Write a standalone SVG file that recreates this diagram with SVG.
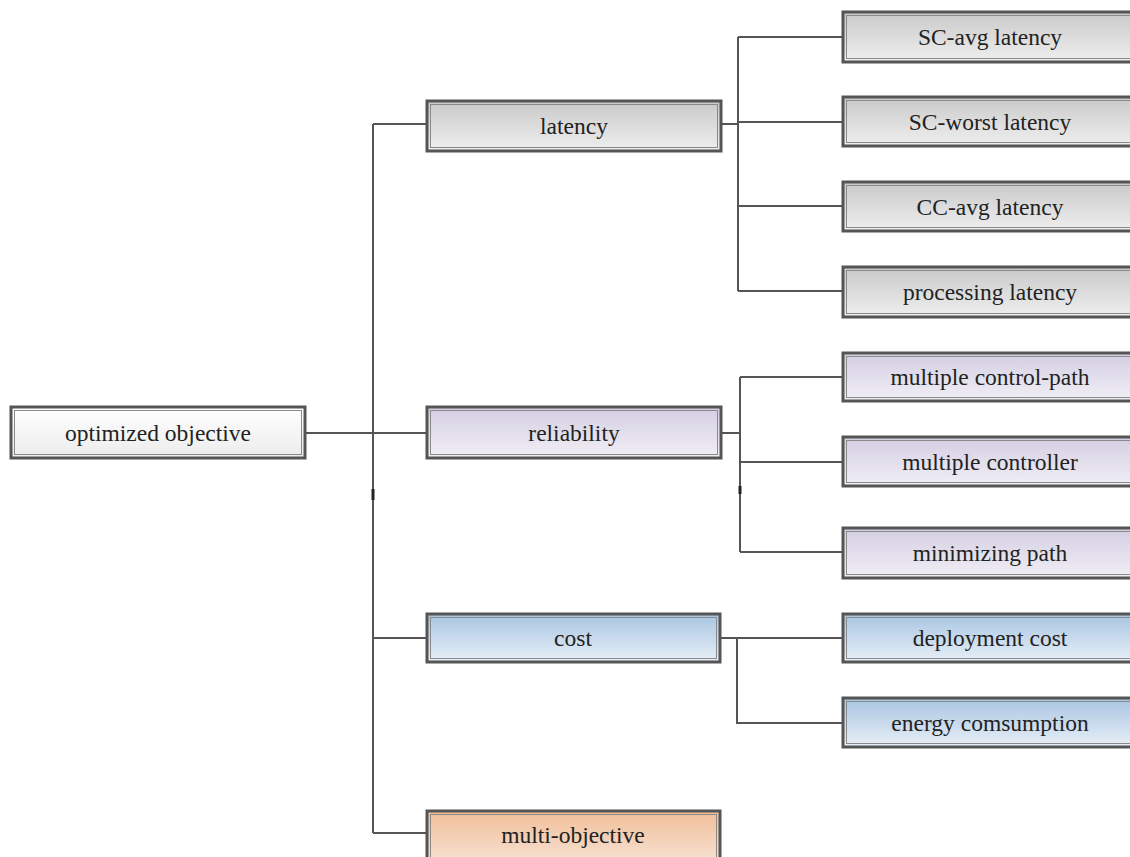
<svg xmlns="http://www.w3.org/2000/svg" width="1130" height="857" viewBox="0 0 1130 857">
<defs>
<linearGradient id="gWhite" x1="0" y1="0" x2="0" y2="1"><stop offset="0" stop-color="#ffffff"/><stop offset="1" stop-color="#ececec"/></linearGradient>
<linearGradient id="gGray" x1="0" y1="0" x2="0" y2="1"><stop offset="0" stop-color="#c9c9c9"/><stop offset="1" stop-color="#efefef"/></linearGradient>
<linearGradient id="gPurple" x1="0" y1="0" x2="0" y2="1"><stop offset="0" stop-color="#d3cee2"/><stop offset="1" stop-color="#f1eff6"/></linearGradient>
<linearGradient id="gBlue" x1="0" y1="0" x2="0" y2="1"><stop offset="0" stop-color="#a8c5e2"/><stop offset="1" stop-color="#e8eff7"/></linearGradient>
<linearGradient id="gOrange" x1="0" y1="0" x2="0" y2="1"><stop offset="0" stop-color="#f1bf98"/><stop offset="1" stop-color="#f8e6dc"/></linearGradient>
</defs>
<style>
.box{stroke:#555;stroke-width:3}
.inner{fill:none;stroke:#8a8a8a;stroke-width:1}
.lbl{font-family:"Liberation Serif","Times New Roman",serif;font-size:23.5px;fill:#222;text-anchor:middle}
.conn{fill:none;stroke:#555;stroke-width:2}
</style>
<rect width="1130" height="857" fill="#ffffff"/>
<g id="connectors">
<path class="conn" d="M305,433 H427"/>
<path class="conn" d="M373,124 V833"/>
<path class="conn" d="M373,124 H427"/>
<path class="conn" d="M373,638 H427"/>
<path class="conn" d="M373,833 H427"/>
<path class="conn" d="M721,124 H738"/>
<path class="conn" d="M738,37 V291"/>
<path class="conn" d="M738,37 H843 M738,122 H843 M738,206 H843 M738,291 H843"/>
<path class="conn" d="M721,433 H740"/>
<path class="conn" d="M740,377 V552"/>
<path class="conn" d="M740,377 H843 M740,462 H843 M740,552 H843"/>
<path class="conn" d="M720,638 H843"/>
<path class="conn" d="M737,638 V723 H843"/>
<path d="M373,489 V500" stroke="#222" stroke-width="3"/>
<path d="M740,486 V494" stroke="#222" stroke-width="3"/>
</g>
<g id="node-root"><rect class="box" x="11" y="407" width="294" height="51" fill="url(#gWhite)"/><rect class="inner" x="14.5" y="410.5" width="287" height="44"/><text class="lbl" x="158" y="441">optimized objective</text></g>
<g id="node-latency"><rect class="box" x="427" y="101" width="294" height="50" fill="url(#gGray)"/><rect class="inner" x="430.5" y="104.5" width="287" height="43"/><text class="lbl" x="574" y="134">latency</text></g>
<g id="node-sc-avg"><rect class="box" x="843" y="12" width="294" height="50" fill="url(#gGray)"/><rect class="inner" x="846.5" y="15.5" width="287" height="43"/><text class="lbl" x="990" y="45">SC-avg latency</text></g>
<g id="node-sc-worst"><rect class="box" x="843" y="97" width="294" height="49" fill="url(#gGray)"/><rect class="inner" x="846.5" y="100.5" width="287" height="42"/><text class="lbl" x="990" y="130">SC-worst latency</text></g>
<g id="node-cc-avg"><rect class="box" x="843" y="182" width="294" height="49" fill="url(#gGray)"/><rect class="inner" x="846.5" y="185.5" width="287" height="42"/><text class="lbl" x="990" y="215">CC-avg latency</text></g>
<g id="node-processing"><rect class="box" x="843" y="267" width="294" height="50" fill="url(#gGray)"/><rect class="inner" x="846.5" y="270.5" width="287" height="43"/><text class="lbl" x="990" y="300">processing latency</text></g>
<g id="node-reliability"><rect class="box" x="427" y="407" width="294" height="51" fill="url(#gPurple)"/><rect class="inner" x="430.5" y="410.5" width="287" height="44"/><text class="lbl" x="574" y="441">reliability</text></g>
<g id="node-multi-path"><rect class="box" x="843" y="353" width="294" height="48" fill="url(#gPurple)"/><rect class="inner" x="846.5" y="356.5" width="287" height="41"/><text class="lbl" x="990" y="385">multiple control-path</text></g>
<g id="node-multi-ctrl"><rect class="box" x="843" y="437" width="294" height="49" fill="url(#gPurple)"/><rect class="inner" x="846.5" y="440.5" width="287" height="42"/><text class="lbl" x="990" y="470">multiple controller</text></g>
<g id="node-min-path"><rect class="box" x="843" y="528" width="294" height="50" fill="url(#gPurple)"/><rect class="inner" x="846.5" y="531.5" width="287" height="43"/><text class="lbl" x="990" y="561">minimizing path</text></g>
<g id="node-cost"><rect class="box" x="427" y="614" width="293" height="48" fill="url(#gBlue)"/><rect class="inner" x="430.5" y="617.5" width="286" height="41"/><text class="lbl" x="573" y="646">cost</text></g>
<g id="node-deploy"><rect class="box" x="843" y="614" width="294" height="48" fill="url(#gBlue)"/><rect class="inner" x="846.5" y="617.5" width="287" height="41"/><text class="lbl" x="990" y="646">deployment cost</text></g>
<g id="node-energy"><rect class="box" x="843" y="698" width="294" height="49" fill="url(#gBlue)"/><rect class="inner" x="846.5" y="701.5" width="287" height="42"/><text class="lbl" x="990" y="731">energy comsumption</text></g>
<g id="node-multi-obj"><rect class="box" x="427" y="811" width="293" height="60" fill="url(#gOrange)"/><rect class="inner" x="430.5" y="814.5" width="286" height="53"/><text class="lbl" x="573" y="843">multi-objective</text></g>
</svg>
